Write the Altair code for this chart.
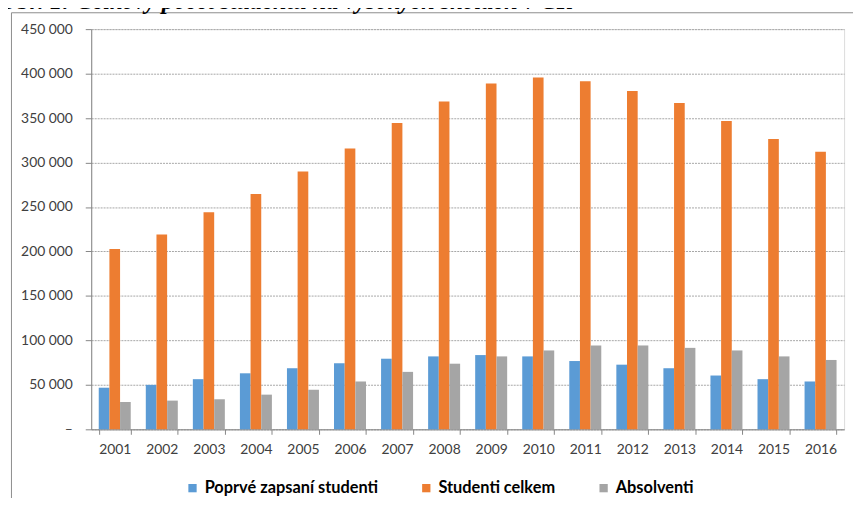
import altair as alt
import pandas as pd

years = [str(y) for y in range(2001, 2017)]
series = ["Poprvé zapsaní studenti", "Studenti celkem", "Absolventi"]
colors = ["#5B9BD5", "#ED7D31", "#A5A5A5"]

poprve = [46800, 50000, 56400, 63000, 68700, 74300, 79400, 82000,
          83500, 82000, 76800, 72700, 68700, 60500, 56400, 53800]
celkem = [202900, 219000, 244100, 264500, 289800, 315700, 344400, 368700,
          388800, 395500, 391400, 380500, 367000, 346600, 326500, 312000]
absolventi = [30800, 32300, 33800, 39000, 44500, 53800, 64600, 73800,
              82000, 88700, 94300, 94300, 91600, 88700, 82000, 78000]

title_text = "Obr. 1: Celkový počet studentů na vysokých školách v ČR"
y_ticks = list(range(0, 450001, 50000))

rows = []
for name, vals in zip(series, [poprve, celkem, absolventi]):
    for yr, v in zip(years, vals):
        rows.append({"year": yr, "series": name, "value": v})
df = pd.DataFrame(rows)
one = pd.DataFrame({"a": [0]})

bars = alt.Chart(df).mark_bar().encode(
    x=alt.X("year:N", sort=years,
            scale=alt.Scale(paddingInner=0.32, paddingOuter=0.16),
            axis=alt.Axis(title=None, labelAngle=0, tickBand="extent",
                          labelFont="Lato", labelFontSize=14, labelColor="#404040",
                          domainColor="#868686", tickColor="#868686", tickSize=5,
                          labelPadding=8, grid=False)),
    xOffset=alt.XOffset("series:N", sort=series),
    y=alt.Y("value:Q",
            scale=alt.Scale(domain=[0, 450000], nice=False, zero=True),
            axis=alt.Axis(title=None, values=y_ticks,
                          labelExpr="datum.value == 0 ? '–' : replace(format(datum.value, ','), ',', ' ')",
                          labelFont="Lato", labelFontSize=14, labelColor="#404040",
                          domainColor="#868686", tickColor="#868686", tickSize=6,
                          labelPadding=13, grid=True, gridColor="#a6a6a6",
                          gridDash=[2, 1], gridWidth=1)),
    color=alt.Color("series:N", sort=series,
                    scale=alt.Scale(domain=series, range=colors),
                    legend=alt.Legend(title=None, orient="none", direction="horizontal",
                                      legendX=94, legendY=455,
                                      symbolType="square", symbolSize=70,
                                      symbolStrokeWidth=0,
                                      labelFont="Lato", labelFontSize=16.5,
                                      labelFontWeight="bold", labelColor="#000000",
                                      labelLimit=400,
                                      labelOffset=4, columnPadding=40)),
)

frame = alt.Chart(one).mark_rect(fill="transparent", stroke="#8c8c8c", strokeWidth=1).encode(
    x=alt.value(-80.5), y=alt.value(-16.5), x2=alt.value(900), y2=alt.value(700)
)

title = alt.Chart(one).mark_text(
    text=title_text, font="Liberation Serif", fontSize=24.5, fontWeight="bold",
    fontStyle="italic", align="left", baseline="alphabetic", color="#000000"
).encode(x=alt.value(-92), y=alt.value(-20.5))

chart = alt.layer(frame, title, bars).properties(
    width=760, height=404,
    padding={"left": 84, "top": 19, "right": 9, "bottom": 67},
    autosize=alt.AutoSizeParams(type="none"),
).configure_view(stroke=None).configure(background="white")

chart.save("out.html", embed_options={"renderer": "svg", "actions": False})
